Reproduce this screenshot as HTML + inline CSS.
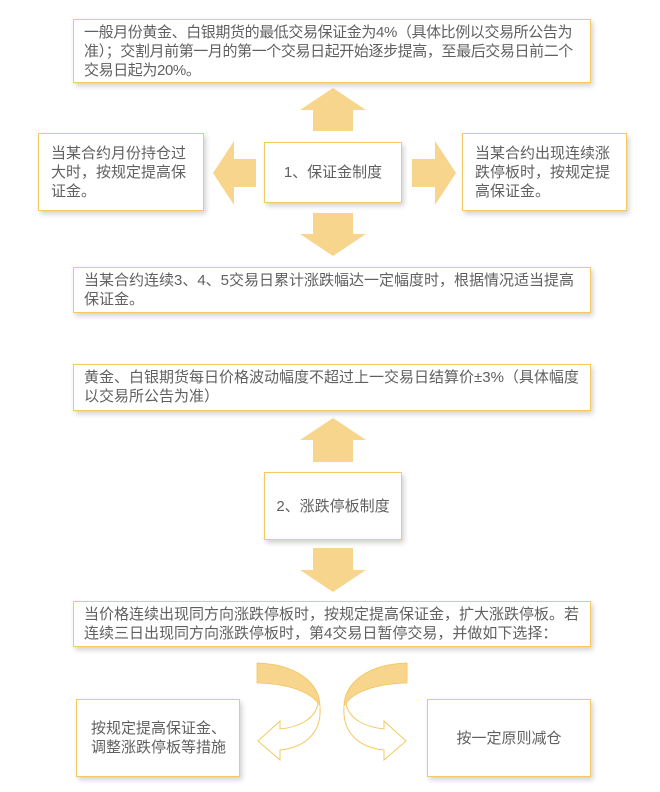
<!DOCTYPE html>
<html><head><meta charset="utf-8"><style>
body{margin:0;width:660px;height:792px;background:#fff;position:relative;overflow:hidden;font-family:"Liberation Sans","Noto Sans CJK SC",sans-serif;color:#606060;}
.b{position:absolute;box-sizing:border-box;background:#fff;border:1.5px solid #f5c862;box-shadow:2px 3px 5px rgba(0,0,0,0.18);font-size:15px;line-height:19px;}
.c{display:flex;align-items:center;justify-content:center;text-align:center;}
svg{position:absolute;left:0;top:0;}
</style></head><body>
<svg width="660" height="792">
<g fill="#f8d58c">
<polygon points="333,88 366,110 353,110 353,131 313,131 313,110 300,110"/>
<polygon points="333,256 366,234 353,234 353,213 313,213 313,234 300,234"/>
<polygon points="213,173 234,141 234,159 256,159 256,187 234,187 234,205"/>
<polygon points="456,173 435,141 435,159 412,159 412,187 435,187 435,205"/>
<polygon points="333,418 366,440 353,440 353,462 313,462 313,440 300,440"/>
<polygon points="333,592 366,570 353,570 353,548 313,548 313,570 300,570"/>
</g>
<g id="ca">
<path d="M257,663 C295,664 320,682 320,707 C315,695 295,684 257,683 Z" fill="#f8d58c" stroke="#f3c45a" stroke-width="0.8"/>
<path d="M320,707 C322,735 302,748 280,750 L280,760 L258,741 L280,721 L280,729 C300,727 316,718 318,703" fill="#fff" stroke="#f5c862" stroke-width="1"/>
</g>
<use href="#ca" transform="translate(664,0) scale(-1,1)"/>
</svg>
<div class="b" style="left:73px;top:19px;width:518px;height:64px;padding:3px 4px 3px 10px;letter-spacing:-0.4px;">一般月份黄金、白银期货的最低交易保证金为4%（具体比例以交易所公告为准）；交割月前第一月的第一个交易日起开始逐步提高，至最后交易日前二个交易日起为20%。</div>
<div class="b" style="left:38px;top:133px;width:166px;height:78px;padding:10px 12px;">当某合约月份持仓过大时，按规定提高保证金。</div>
<div class="b c" style="left:264px;top:142px;width:138px;height:61px;">1、保证金制度</div>
<div class="b" style="left:462px;top:133px;width:165px;height:78px;padding:10px 12px;">当某合约出现连续涨跌停板时，按规定提高保证金。</div>
<div class="b" style="left:73px;top:267px;width:518px;height:46px;padding:3px 10px;">当某合约连续3、4、5交易日累计涨跌幅达一定幅度时，根据情况适当提高保证金。</div>
<div class="b" style="left:73px;top:364px;width:518px;height:47px;padding:3px 10px;">黄金、白银期货每日价格波动幅度不超过上一交易日结算价±3%（具体幅度以交易所公告为准）</div>
<div class="b c" style="left:264px;top:472px;width:138px;height:68px;">2、涨跌停板制度</div>
<div class="b" style="left:73px;top:601px;width:518px;height:46px;padding:3px 10px;">当价格连续出现同方向涨跌停板时，按规定提高保证金，扩大涨跌停板。若连续三日出现同方向涨跌停板时，第4交易日暂停交易，并做如下选择：</div>
<div class="b" style="left:76px;top:699px;width:164px;height:78px;padding:19px 0 0 14px;">按规定提高保证金、<br>调整涨跌停板等措施</div>
<div class="b c" style="left:427px;top:699px;width:164px;height:78px;">按一定原则减仓</div>
</body></html>
